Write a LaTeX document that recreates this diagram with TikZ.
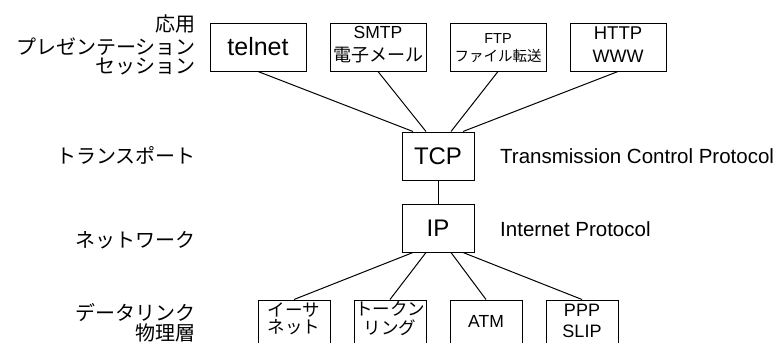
\documentclass[tikz,border=0pt]{standalone}
\usepackage{fontspec}
\setmainfont{Liberation Sans}
\newfontfamily\jp{Noto Sans CJK JP}
\usetikzlibrary{calc}
\newcommand\fsz[1]{\fontsize{#1}{#1}\selectfont}
\begin{document}
\begin{tikzpicture}[x=1pt,y=-1pt,
  bigbox/.style={draw, line width=1pt, inner sep=0pt, minimum width=96pt, minimum height=48pt},
  midbox/.style={draw, line width=1pt, inner sep=0pt, minimum width=72pt, minimum height=48pt},
  tx/.style={inner sep=0pt, anchor=base},
  lay/.style={inner sep=0pt, anchor=base east, font=\jp\fsz{20}},
  desc/.style={inner sep=0pt, anchor=base west, font=\fsz{20.5}},
  conn/.style={line width=1pt}]
\useasboundingbox (0,0) rectangle (780,343);
\clip (0,0) rectangle (780,343);

% layer labels
\node[lay] (l1) at (196,31) {応用};
\node[lay] (l2) at (196,54.5) {プレゼンテーション};
\node[lay] (l3) at (196,73.5) {セッション};
\node[lay] (l4) at (196,163.5) {トランスポート};
\node[lay] (l5) at (196,247) {ネットワーク};
\node[lay] (l6) at (196,320) {データリンク};
\node[lay] (l7) at (196,340.5) {物理層};

% application boxes
\node[bigbox, font=\fsz{25}] (telnet) at (258,47) {telnet};
\node[bigbox] (smtp) at (378,47) {};
\node[bigbox] (ftp) at (498,47) {};
\node[bigbox] (http) at (618,47) {};
\node[tx, font=\fsz{17.5}] (smtp1) at (378,38) {SMTP};
\node[tx, font=\jp\fsz{18}] (smtp2) at (378,61.5) {電子メール};
\node[tx, font=\fsz{14.5}] (ftp1) at (498,43) {FTP};
\node[tx, font=\jp\fsz{14.5}] (ftp2) at (498,61) {ファイル転送};
\node[tx, font=\fsz{18.5}] (http1) at (618,39) {HTTP};
\node[tx, font=\fsz{18}] (http2) at (618,62) {WWW};

% transport / network
\node[midbox, font=\fsz{24}] (tcp) at (438,156) {TCP};
\node[midbox, font=\fsz{24}] (ip) at (438,228) {IP};
\node[desc] (tcpd) at (500,163.3) {Transmission Control Protocol};
\node[desc] (ipd) at (500,236) {Internet Protocol};

% link boxes
\node[midbox] (eth) at (294,324) {};
\node[midbox] (tok) at (390,324) {};
\node[midbox] (atm) at (486,324) {};
\node[midbox] (ppp) at (582,324) {};
\node[tx, font=\jp\fsz{17.5}] (eth1) at (294,316.5) {イーサ};
\node[tx, font=\jp\fsz{17.5}] (eth2) at (294,333) {ネット};
\node[tx, font=\jp\fsz{17.5}] (tok1) at (390,315.5) {トークン};
\node[tx, font=\jp\fsz{17.5}] (tok2) at (390,334) {リング};
\node[tx, font=\fsz{17.5}] (atm1) at (486,327) {ATM};
\node[tx, font=\fsz{18}] (ppp1) at (582,316) {PPP};
\node[tx, font=\fsz{18}] (ppp2) at (582,337) {SLIP};

% connectors
\draw[conn] (telnet.south) -- ($(tcp.north)+(-25,0)$);
\draw[conn] (smtp.south) -- ($(tcp.north)+(-12,0)$);
\draw[conn] (ftp.south) -- ($(tcp.north)+(13,0)$);
\draw[conn] (http.south) -- ($(tcp.north)+(25,0)$);
\draw[conn] (tcp.south) -- (ip.north);
\draw[conn] ($(ip.south)+(-25,0)$) -- (eth.north);
\draw[conn] ($(ip.south)+(-12,0)$) -- (tok.north);
\draw[conn] ($(ip.south)+(13,0)$) -- (atm.north);
\draw[conn] ($(ip.south)+(25,0)$) -- (ppp.north);
\end{tikzpicture}
\end{document}
